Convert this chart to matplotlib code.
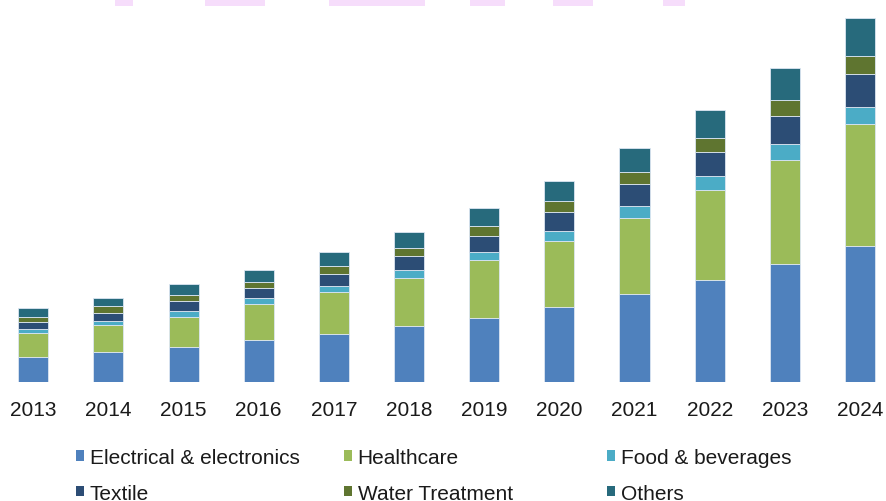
import matplotlib
matplotlib.use("Agg")
import matplotlib.pyplot as plt
from matplotlib.patches import Rectangle, Patch
import numpy as np

plt.rcParams['font.family'] = ['Liberation Sans', 'DejaVu Sans']

years = ['2013', '2014', '2015', '2016', '2017', '2018',
         '2019', '2020', '2021', '2022', '2023', '2024']
electrical = [25.3, 29.7, 35.3, 41.6, 47.6, 55.6, 64.0, 75.3, 88.0, 102.0, 118.0, 136.0]
healthcare = [24.0, 27.7, 30.0, 36.4, 42.4, 48.4, 58.0, 66.0, 76.0, 90.0, 104.0, 121.7]
food = [4.0, 4.0, 6.0, 5.6, 5.6, 7.6, 7.6, 10.0, 11.7, 14.0, 16.0, 17.6]
textile = [6.4, 8.0, 10.0, 10.4, 12.0, 14.0, 16.0, 18.3, 22.3, 24.0, 27.7, 32.4]
water = [5.6, 6.7, 6.0, 5.6, 8.0, 8.0, 10.0, 11.7, 12.0, 14.0, 16.7, 18.3]
others = [8.4, 7.7, 10.7, 12.0, 14.4, 16.4, 18.4, 20.0, 24.0, 28.3, 31.7, 37.7]

labels = ['Electrical & electronics', 'Healthcare', 'Food & beverages',
          'Textile', 'Water Treatment', 'Others']
colors = ['#4F81BD', '#9BBB59', '#4BACC6', '#2C4D75', '#5F7530', '#276A7C']
series = [electrical, healthcare, food, textile, water, others]

W, H = 886, 502
fig = plt.figure(figsize=(W / 100, H / 100), dpi=100)
ax = fig.add_axes([0, 119 / H, 1, 383 / H])

x = np.arange(len(years))
bottom = np.zeros(len(years))
for vals, col in zip(series, colors):
    ax.bar(x, vals, 0.4, bottom=bottom, color=col,
           edgecolor='#dce6f2', linewidth=0.6)
    bottom += np.array(vals)

ax.set_ylim(0, 383)
ax.set_xlim(-0.443, 11.347)
ax.set_xticks(x)
ax.set_xticklabels(years, fontsize=15, color='#1a1a1a')
ax.tick_params(axis='x', length=0, pad=13)
ax.set_yticks([])
for s in ax.spines.values():
    s.set_visible(False)

# legend: three columns of two rows
col_x = [76, 344, 607]
for c in range(3):
    hs = [Patch(facecolor=colors[c]), Patch(facecolor=colors[c + 3])]
    fig.legend(hs, [labels[c], labels[c + 3]], loc='upper left',
               bbox_to_anchor=(col_x[c] / W, 1 - 449 / H),
               frameon=False, fontsize=15, handlelength=0.4, handleheight=0.4,
               handletextpad=0.25, labelspacing=0.8, borderpad=0,
               borderaxespad=0, labelcolor='#1a1a1a')

# faint watermark remnants at the top edge
for x0, x1 in [(115, 133), (205, 265), (329, 425), (470, 505), (553, 593), (663, 685)]:
    fig.add_artist(Rectangle((x0 / W, 1 - 7 / H), (x1 - x0) / W, 7 / H,
                             transform=fig.transFigure, color='#F6DDFB', lw=0))

fig.savefig('out.png', dpi=100)
